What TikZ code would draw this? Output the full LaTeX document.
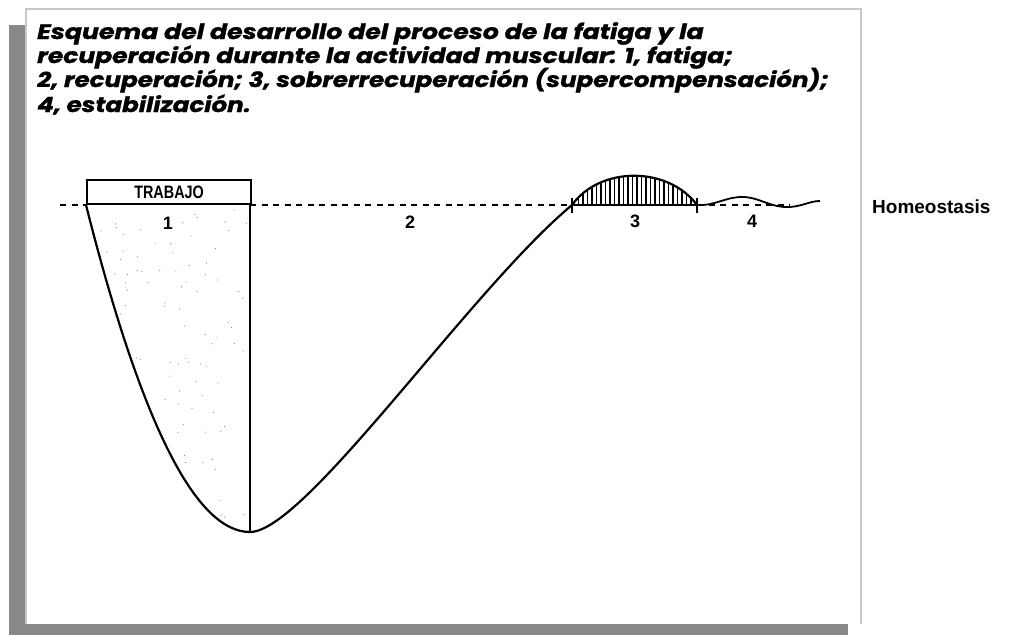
\documentclass[tikz,border=0pt]{standalone}
\usepackage{fontspec}
\setmainfont{Liberation Sans}
\newfontfamily\titlefont{Poppins}[BoldItalicFeatures={FakeBold=1.2}]
\usetikzlibrary{calc}
\definecolor{shadowgray}{HTML}{888888}
\definecolor{bordergray}{HTML}{C8C8C8}
\newcommand{\tl}[1]{\scalebox{1.17}[1]{#1}}
\tikzset{
  titleline/.style={anchor=base west, inner sep=0pt, font=\titlefont\bfseries\itshape\fontsize{21}{22}\selectfont},
  curve/.style={line width=2.2pt, line cap=round},
  base/.style={line width=1.8pt, dash pattern=on 6pt off 5.5pt},
  num/.style={font=\bfseries\fontsize{18}{18}\selectfont, inner sep=0pt},
  tick/.style={line width=1.4pt},
}
\begin{document}
\begin{tikzpicture}[x=1pt,y=-1pt]
\useasboundingbox (0,0) rectangle (1022,635);
\fill[white] (0,0) rectangle (1022,635);
% frame
\draw[bordergray, line width=2pt] (26,624) -- (26,9) -- (861,9) -- (861,624);
\fill[shadowgray] (9,25) rectangle (25,635);
\fill[shadowgray] (9,624) rectangle (848,635);
% title
\node[titleline] (t1) at (37,39) {\scalebox{1.2}[1]{Esquema del desarrollo del proceso de la fatiga y la}};
\node[titleline] (t2) at (37,63) {\scalebox{1.19}[1]{recuperación durante la actividad muscular: 1, fatiga;}};
\node[titleline] (t3) at (37,87) {\tl{2, recuperación; 3, sobrerrecuperación (supercompensación);}};
\node[titleline] (t4) at (37,112) {\tl{4, estabilización.}};
% key points
\coordinate (L) at (86,205);
\coordinate (R) at (250,205);
\coordinate (V) at (250,532);
\coordinate (C) at (572,205);
\coordinate (D) at (697,205);
\coordinate (E) at (820,201);
% stipple
\begin{scope}
  \clip (L) .. controls (141.3,423.7) and (195.7,532) .. (V) -- (R) -- cycle;
  \pgfmathsetseed{11}
  \foreach \i in {1,...,120}{
    \pgfmathsetmacro\xx{88+160*rnd}
    \pgfmathsetmacro\yy{208+322*rnd}
    \fill[black!45] (\xx,\yy) circle (0.6pt);
  }
\end{scope}
% baseline dashes
\draw[base] (60,205) -- (L);
\draw[base] (R) -- (C);
\draw[base] (D) -- (790,205);
% trabajo box
\node[draw, line width=2.2pt, minimum width=164pt, minimum height=24pt, inner sep=0pt, anchor=south west,
      font=\bfseries\fontsize{18}{18}\selectfont] (box) at (L) {\scalebox{0.8}[1]{TRABAJO}};
% curves
\draw[curve] (L) .. controls (141.3,423.7) and (195.7,532) .. (V);
\draw[line width=2.8pt] (R) -- (V);
\draw[curve] (V) .. controls (305,532) and (470,290) .. (C);
% bump 3
\begin{scope}
  \clip (C) .. controls (600,166) and (668,166) .. (D) -- cycle;
  \foreach \x in {574,578.5,...,697}{
    \draw[line width=1.3pt] (\x,170) -- (\x,206);
  }
\end{scope}
\draw[curve] (C) .. controls (600,166) and (668,166) .. (D);
\draw[line width=2pt] (C) -- (D);
\draw[tick] (572,198) -- (572,213);
\draw[tick] (697,198) -- (697,213);
% wave 4
\draw[line width=1.8pt] (D) .. controls (715,206) and (725,197) .. (742,197)
   .. controls (760,197) and (770,208) .. (790,207) .. controls (803,206) and (810,201) .. (E);
% labels
\node[num] (n1) at (168,223) {1};
\node[num] (n2) at (410,222) {2};
\node[num] (n3) at (635,221) {3};
\node[num] (n4) at (752,221) {4};
\node[anchor=base west, inner sep=0pt, font=\bfseries\fontsize{19}{19}\selectfont] (h) at (872,213) {Homeostasis};
\end{tikzpicture}
\end{document}
